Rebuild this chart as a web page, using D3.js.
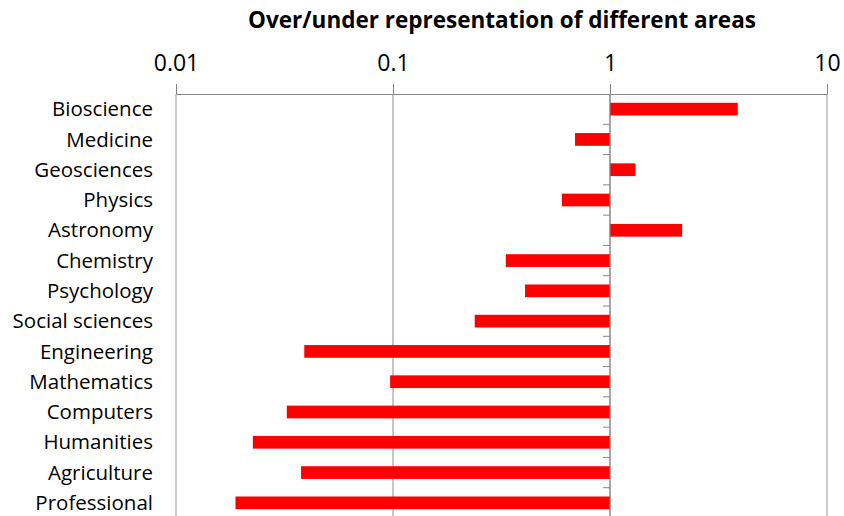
<!DOCTYPE html>
<html>
<head>
<meta charset="utf-8">
<script src="https://cdn.jsdelivr.net/npm/d3@7"></script>
<style>
  body { margin: 0; background: #fff; }
  text { font-family: "Open Sans", "Liberation Sans", sans-serif; fill: #000; }
</style>
</head>
<body>
<svg id="chart"></svg>
<script>
// Categories, top to bottom
const areas = ['Bioscience', 'Medicine', 'Geosciences', 'Physics', 'Astronomy', 'Chemistry',
  'Psychology', 'Social sciences', 'Engineering', 'Mathematics', 'Computers', 'Humanities',
  'Agriculture', 'Professional'];

// Representation ratio (1 = proportional)
const ratios = [3.88, 0.69, 1.31, 0.60, 2.15, 0.331, 0.406, 0.238, 0.039, 0.097, 0.0324,
  0.0226, 0.0377, 0.0188];

const xTicks = [0.01, 0.1, 1, 10];
const title = 'Over/under representation of different areas';

const config = {
  width: 844,
  height: 516,
  margin: { top: 94, right: 17, bottom: -2, left: 176 }
};
const innerW = config.width - config.margin.left - config.margin.right;
const innerH = config.height - config.margin.top - config.margin.bottom;

const svg = d3.select('#chart')
  .attr('width', config.width)
  .attr('height', config.height);

const g = svg.append('g')
  .attr('transform', `translate(${config.margin.left},${config.margin.top})`);

const x = d3.scaleLog()
  .domain([0.01, 10])
  .range([0, innerW]);

const y = d3.scaleBand()
  .domain(areas)
  .range([0, innerH])
  .paddingInner(0.58)
  .paddingOuter(0.29);

// Vertical gridlines
g.selectAll('.grid')
  .data(xTicks)
  .join('line')
  .attr('class', 'grid')
  .attr('x1', d => x(d)).attr('x2', d => x(d))
  .attr('y1', 0).attr('y2', innerH)
  .attr('stroke', d => (d === 0.01 || d === 10) ? '#c0c0c0' : '#8c8c8c')
  .attr('stroke-width', d => (d === 0.01 || d === 10) ? 1.6 : 1);

// Top axis
const xAxis = d3.axisTop(x)
  .tickValues(xTicks)
  .tickFormat(d => d3.format('')(d))
  .tickSize(10)
  .tickPadding(13);

const xAxisG = g.append('g').call(xAxis);
xAxisG.select('.domain').attr('stroke', '#868686');
xAxisG.selectAll('.tick line').attr('stroke', '#868686');
xAxisG.selectAll('.tick text')
  .attr('font-size', 23)
  .attr('font-family', '"Open Sans", sans-serif')
  .attr('fill', '#000');

// Bars from 1 to value
g.selectAll('.bar')
  .data(areas)
  .join('rect')
  .attr('class', 'bar')
  .attr('x', (d, i) => Math.min(x(1), x(ratios[i])))
  .attr('width', (d, i) => Math.abs(x(ratios[i]) - x(1)))
  .attr('y', d => y(d))
  .attr('height', y.bandwidth())
  .attr('fill', '#ff0000');

// Category axis at x = 1, with ticks at band boundaries
const step = innerH / areas.length;
g.append('line')
  .attr('x1', x(1)).attr('x2', x(1))
  .attr('y1', 0).attr('y2', innerH)
  .attr('stroke', '#868686');
g.selectAll('.ytick')
  .data(d3.range(1, areas.length))
  .join('line')
  .attr('class', 'ytick')
  .attr('x1', x(1) - 7).attr('x2', x(1))
  .attr('y1', d => d * step).attr('y2', d => d * step)
  .attr('stroke', '#868686');

// Category labels on the left
g.selectAll('.label')
  .data(areas)
  .join('text')
  .attr('class', 'label')
  .attr('x', -23)
  .attr('y', d => y(d) + y.bandwidth() / 2)
  .attr('dy', '0.35em')
  .attr('text-anchor', 'end')
  .attr('font-size', 20.5)
  .text(d => d);

// Title
svg.append('text')
  .attr('x', 502)
  .attr('y', 28)
  .attr('text-anchor', 'middle')
  .attr('font-size', 22.5)
  .attr('font-weight', 'bold')
  .text(title);
</script>
</body>
</html>
